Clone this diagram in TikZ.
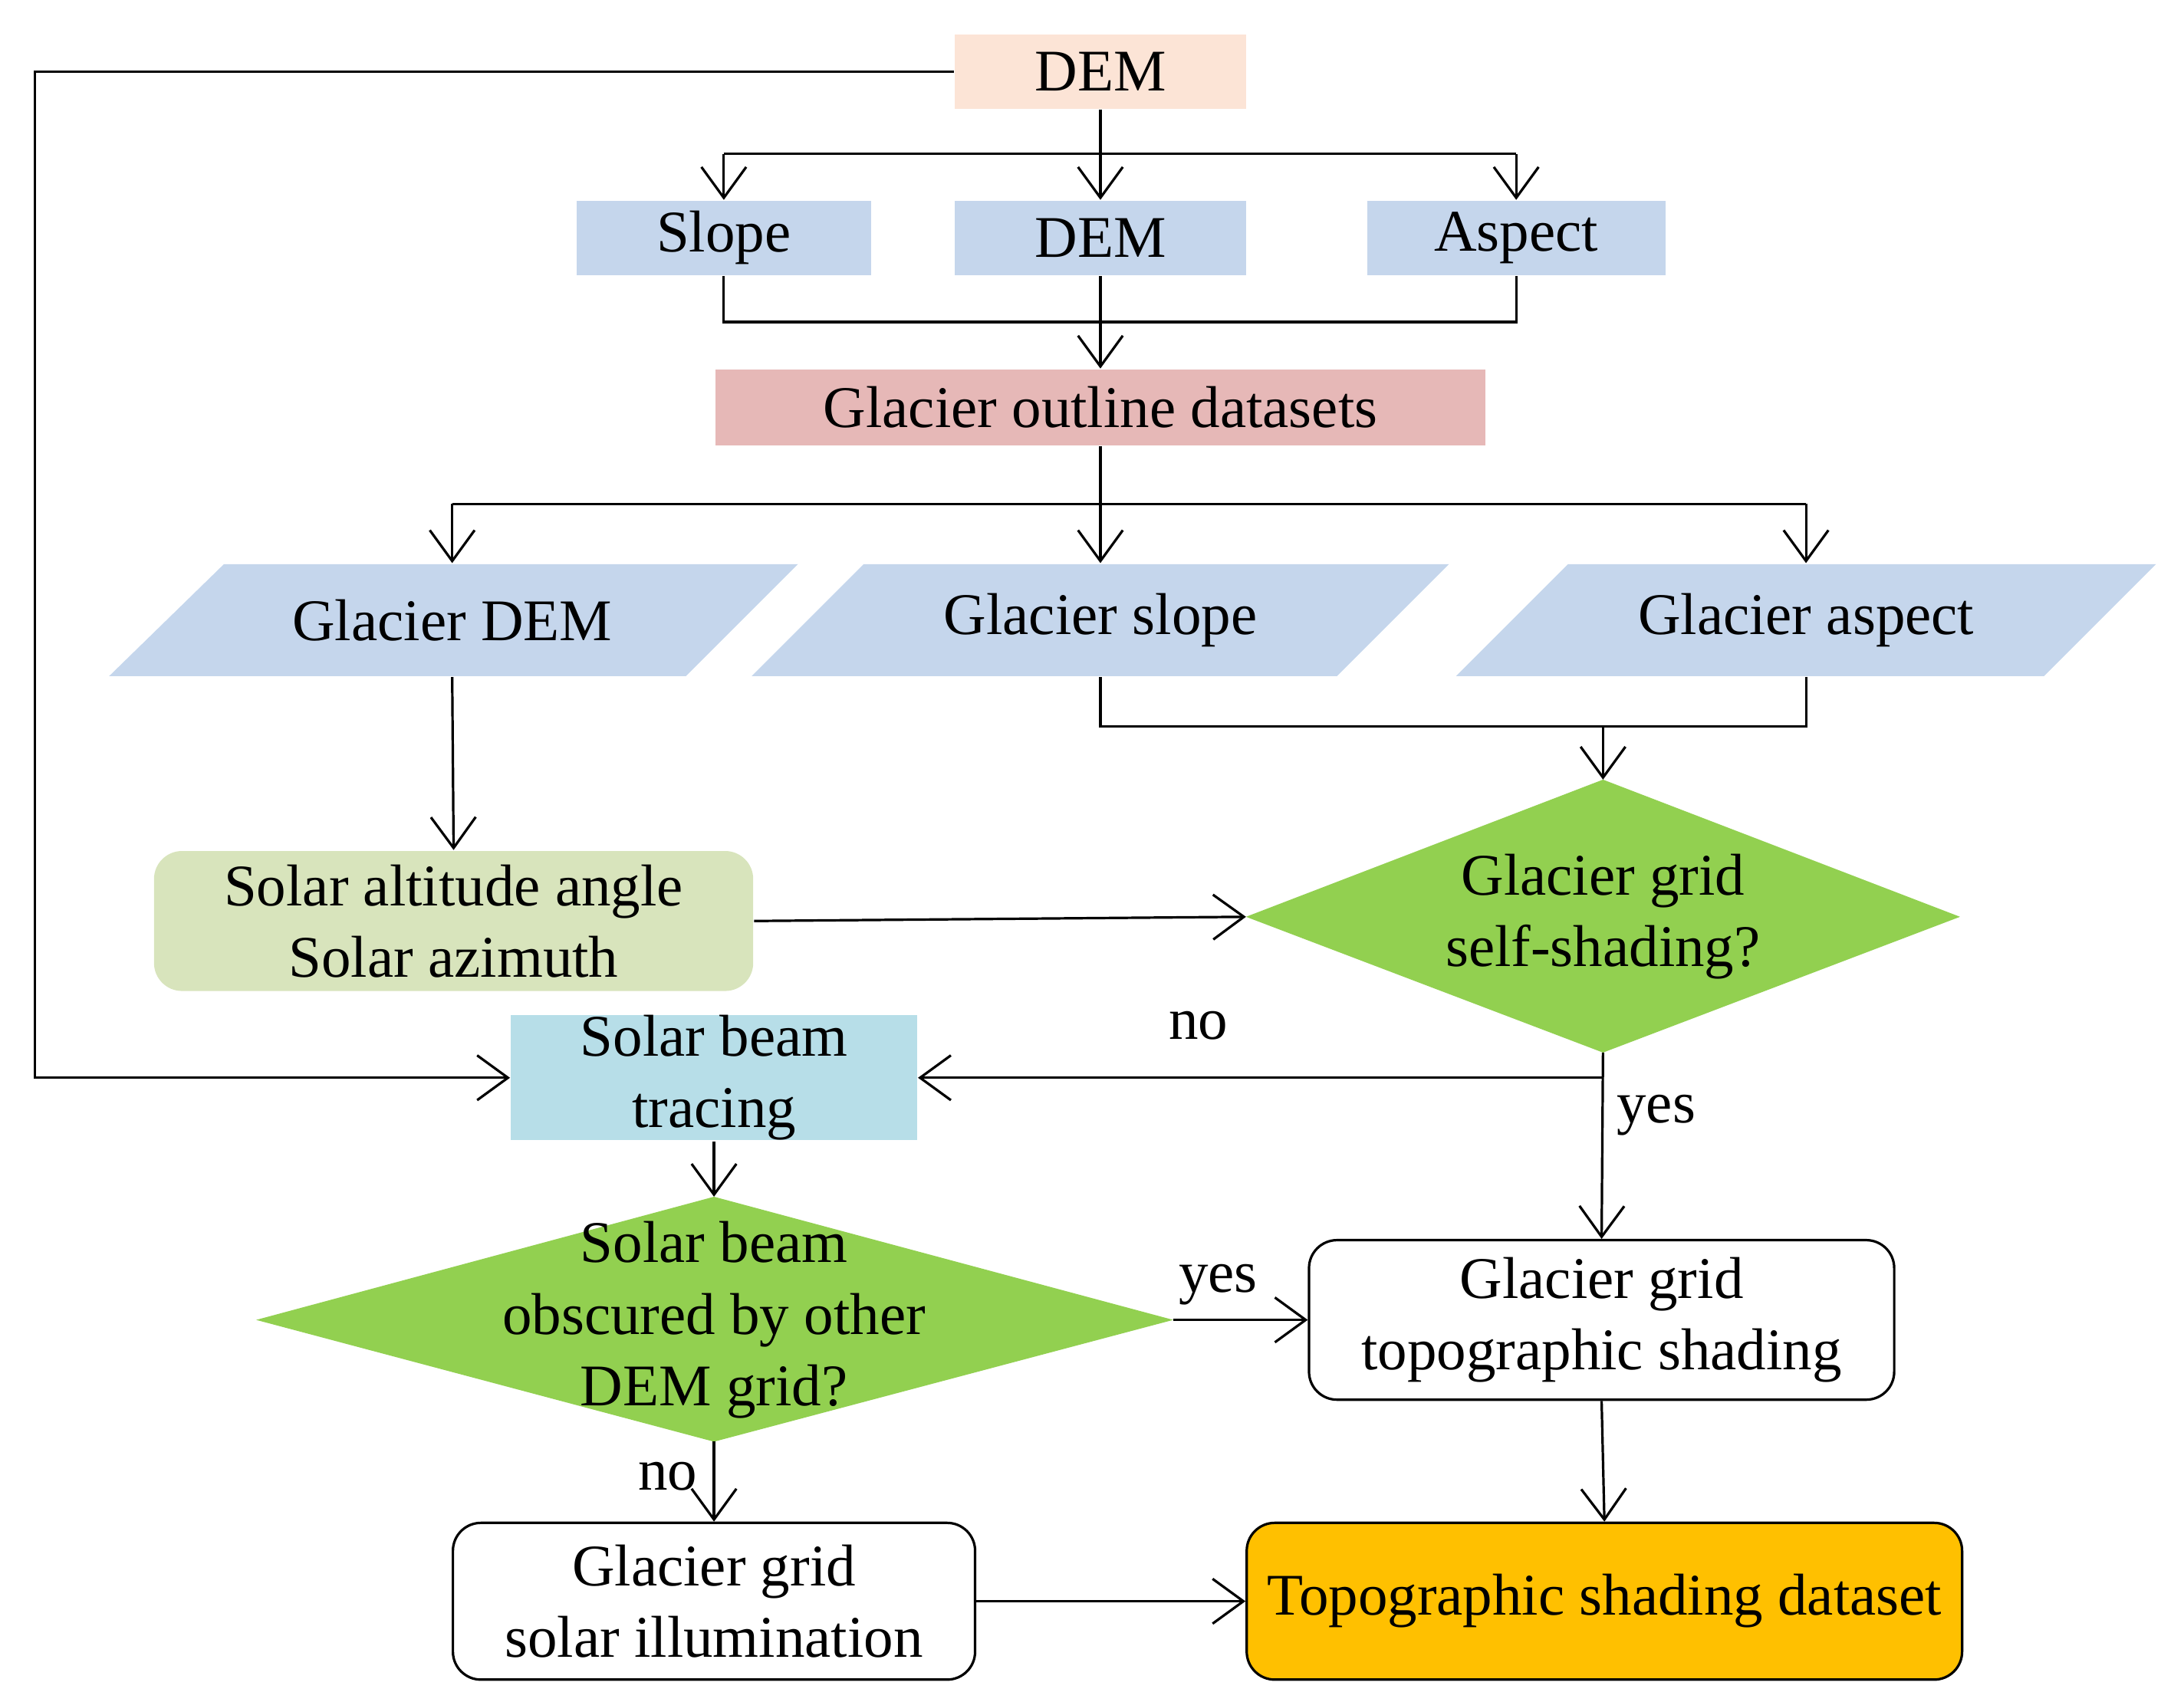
\documentclass[tikz,border=0pt]{standalone}
\usepackage{fontspec}
\setmainfont{Liberation Serif}
\usetikzlibrary{arrows.meta}
\begin{document}
\begin{tikzpicture}[x=0.1mm,y=-0.1mm,
  font=\fontsize{12}{14.5}\selectfont,
  arr/.style={-{Straight Barb[length=2.2mm,width=3.2mm]},line width=0.5pt},
  ln/.style={line width=0.5pt},
  box/.style={inner sep=0pt,align=center},
  lbl/.style={inner sep=0pt}]
\useasboundingbox (0,0) rectangle (1560,1216);
\definecolor{peach}{HTML}{FCE4D6}
\definecolor{lb}{HTML}{C5D6EC}
\definecolor{pk}{HTML}{E6B8B7}
\definecolor{olive}{HTML}{D8E4BC}
\definecolor{cyan}{HTML}{B7DEE8}
\definecolor{gr}{HTML}{92D050}
\definecolor{org}{HTML}{FFC000}
% boxes
\node[box,fill=peach,minimum width=20.8mm,minimum height=5.3mm] (dem) at (786,51) {DEM};
\node[box,fill=lb,minimum width=21mm,minimum height=5.3mm] (slope) at (517,170) {Slope};
\node[box,fill=lb,minimum width=20.8mm,minimum height=5.3mm] (dem2) at (786,170) {DEM};
\node[box,fill=lb,minimum width=21.3mm,minimum height=5.3mm] (asp) at (1083,170) {Aspect};
\node[box,fill=pk,minimum width=55mm,minimum height=5.4mm] (out) at (786,291) {Glacier outline datasets};
% parallelograms
\fill[lb] (160,403) -- (570,403) -- (490,483) -- (78,483) -- cycle;
\fill[lb] (617,403) -- (1035,403) -- (955,483) -- (537,483) -- cycle;
\fill[lb] (1120,403) -- (1540,403) -- (1460,483) -- (1040,483) -- cycle;
\node[box,minimum width=30mm,minimum height=8mm] (gdem) at (323,443) {Glacier DEM};
\node[box,minimum width=30mm,minimum height=8mm] (gslope) at (786,443) {Glacier slope};
\node[box,minimum width=30mm,minimum height=8mm] (gasp) at (1290,443) {Glacier aspect};
\node[box,fill=olive,rounded corners=2mm,minimum width=42.8mm,minimum height=10mm] (sol) at (324,658) {Solar altitude angle\\Solar azimuth};
% diamond 1
\fill[gr] (890,655) coordinate (d1w) -- (1145,557) coordinate (d1n) -- (1400,655) -- (1145,752) coordinate (d1s) -- cycle;
\node[box] (d1) at (1145,655) {Glacier grid\\self-shading?};
\node[box,fill=cyan,minimum width=29mm,minimum height=8.6mm] (sbt) at (510,770) {Solar beam\\tracing};
% diamond 2
\fill[gr] (183,943) -- (510,855) coordinate (d2n) -- (838,943) coordinate (d2e) -- (510,1030) coordinate (d2s) -- cycle;
\node[box] (d2) at (510,943) {Solar beam\\obscured by other\\DEM grid?};
\node[box,draw,ln,rounded corners=2mm,minimum width=41.8mm,minimum height=11.4mm] (topo) at (1144,943) {Glacier grid\\topographic shading};
\node[box,draw,ln,rounded corners=2mm,minimum width=37.3mm,minimum height=11.2mm] (ill) at (510,1144) {Glacier grid\\solar illumination};
\node[box,draw,ln,fill=org,rounded corners=2mm,minimum width=51.1mm,minimum height=11.2mm] (ds) at (1146,1144) {Topographic shading dataset};
% connectors
\draw[arr] (dem.west) -- (25,51) -- (25,770) -- (sbt.west);
\draw[ln] (dem.south) -- (786,110);
\draw[ln] (517,110) -- (1083,110);
\draw[arr] (517,110) -- (slope.north);
\draw[arr] (786,110) -- (dem2.north);
\draw[arr] (1083,110) -- (asp.north);
\draw[ln] (slope.south) -- (517,230) -- (1083,230) -- (asp.south);
\draw[arr] (dem2.south) -- (out.north);
\draw[ln] (out.south) -- (786,360);
\draw[ln] (323,360) -- (1290,360);
\draw[arr] (323,360) -- (gdem.north);
\draw[arr] (786,360) -- (gslope.north);
\draw[arr] (1290,360) -- (gasp.north);
\draw[arr] (gdem.south) -- (sol.north);
\draw[ln] (gslope.south) -- (786,519) -- (1290,519) -- (gasp.south);
\draw[arr] (1145,519) -- (d1n);
\draw[arr] (sol.east) -- (d1w);
\draw[arr] (d1s) -- (topo.north);
\draw[arr] (1145,770) -- (sbt.east);
\draw[arr] (sbt.south) -- (d2n);
\draw[arr] (d2e) -- (topo.west);
\draw[arr] (d2s) -- (ill.north);
\draw[arr] (topo.south) -- (ds.north);
\draw[arr] (ill.east) -- (ds.west);
\node[lbl] (no1) at (856,733) {no};
\node[lbl] (yes1) at (1183,797) {yes};
\node[lbl] (yes2) at (870,918) {yes};
\node[lbl] (no2) at (477,1055) {no};
\end{tikzpicture}
\end{document}
